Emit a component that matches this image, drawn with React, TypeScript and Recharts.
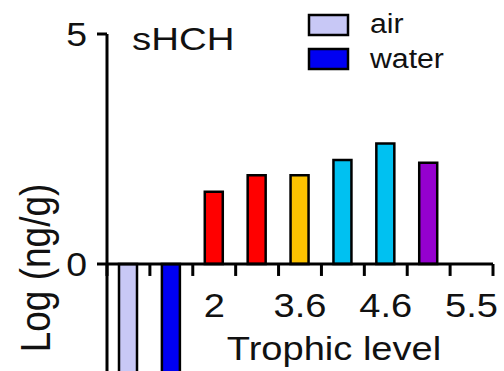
import React from 'react';
import { BarChart, Bar, XAxis, YAxis, Cell, ReferenceLine, ReferenceDot, Legend } from 'recharts';

// Bar slots along the trophic axis (last slot is intentionally empty)
const slots = ['air', 'water', 'biota 1', 'biota 2', 'biota 3', 'biota 4', 'biota 5', 'biota 6', 'top'];
// Log concentration, ng/g
const values = [-3.0, -3.2, 1.57, 1.93, 1.93, 2.26, 2.62, 2.2];
const barColors = ['#c8c8f6', '#0000f2', '#ff0000', '#ff0000', '#fcc200', '#00c1f1', '#00c1f1', '#9500cf'];
// Trophic-level labels written under the slots
const slotLabels = ['', '', '2', '', '3.6', '', '4.6', '', '5.5'];
const yTicks = [0, 5];
const legendNames = ['air', 'water'];
const legendColors = ['#c8c8f6', '#0000f2'];
const title = 'sHCH';

const FONT = '"Liberation Sans", Arial, Helvetica, sans-serif';
const TICK_DEPTH = 0.26; // tick length below the zero line, in axis units

const data = values.map((value, i) => ({ name: slots[i], pos: i + 0.5, value }));
const boundaries = Array.from({ length: slots.length + 1 }, (_, i) => i);

type TxtProps = { x: number; y: number; size: number; anchor?: 'start' | 'middle' | 'end'; sx?: number; children: React.ReactNode };
const STxt = ({ x, y, size, anchor = 'start', sx = 1.12, children }: TxtProps) => (
  <g transform={`translate(${x},${y}) scale(${sx},1)`}>
    <text x={0} y={0} fontSize={size} fontFamily={FONT} textAnchor={anchor} fill="#111">
      {children}
    </text>
  </g>
);

const YTick = (p: any) => (
  <STxt x={p.x} y={p.y + 12} size={34} anchor="end" sx={1.1}>
    {p.payload.value}
  </STxt>
);

const slotLabel = (text: string) => (p: any) => {
  const vb = p.viewBox || {};
  return (
    <STxt x={vb.x} y={vb.y + 53} size={34} anchor="middle" sx={1.12}>
      {text}
    </STxt>
  );
};

const Overlay = () => (
  <svg width={504} height={371} style={{ display: 'block', overflow: 'visible' }}>
    <STxt x={132} y={50} size={32} sx={1.2}>{title}</STxt>
    {legendNames.map((n, i) => (
      <g key={n}>
        <rect x={309} y={15 + i * 34} width={39} height={20} fill={legendColors[i]} stroke="#000" strokeWidth={2.5} />
        <STxt x={370} y={33 + i * 35} size={27} sx={1.12}>{n}</STxt>
      </g>
    ))}
    <STxt x={334} y={360} size={34} anchor="middle" sx={1.12}>Trophic level</STxt>
    <g transform="translate(50,268) scale(1.15,1) rotate(-90)">
      <text x={0} y={0} fontSize={37} fontFamily={FONT} textAnchor="middle" fill="#111">
        Log (ng/g)
      </text>
    </g>
  </svg>
);

export default function App() {
  return (
    <div style={{ position: 'fixed', left: 0, top: 0, width: 504, height: 371, overflow: 'hidden', background: '#fff' }}>
      <BarChart width={504} height={460} data={data} margin={{ top: 34, right: 11, bottom: 12, left: 0 }}>
        <XAxis type="number" dataKey="pos" domain={[0, slots.length]} hide />
        <YAxis
          type="number"
          domain={[-4, 5]}
          ticks={yTicks}
          interval={0}
          width={107}
          axisLine={{ stroke: '#000', strokeWidth: 3 }}
          tickLine={{ stroke: '#000', strokeWidth: 3 }}
          tickSize={10}
          tickMargin={10}
          tick={YTick}
        />
        <Bar dataKey="value" barSize={18} stroke="#000" strokeWidth={2.5} isAnimationActive={false}>
          {data.map((d, i) => (
            <Cell key={d.name} fill={barColors[i]} />
          ))}
        </Bar>
        <ReferenceLine y={0} stroke="#000" strokeWidth={3} ifOverflow="visible" />
        {boundaries.map((b) => (
          <ReferenceLine
            key={`t${b}`}
            segment={[{ x: b, y: 0 }, { x: b, y: -TICK_DEPTH }]}
            stroke="#000"
            strokeWidth={3}
            ifOverflow="visible"
          />
        ))}
        {slotLabels.map((t, i) =>
          t ? (
            <ReferenceDot key={`l${i}`} x={i + 0.5} y={0} r={0} fill="none" stroke="none" ifOverflow="visible" label={{ content: slotLabel(t) }} />
          ) : null
        )}
        <Legend
          content={<Overlay />}
          layout="vertical"
          align="center"
          verticalAlign="middle"
          wrapperStyle={{ left: 0, top: 0, width: 504, height: 371, pointerEvents: 'none' }}
        />
      </BarChart>
    </div>
  );
}
